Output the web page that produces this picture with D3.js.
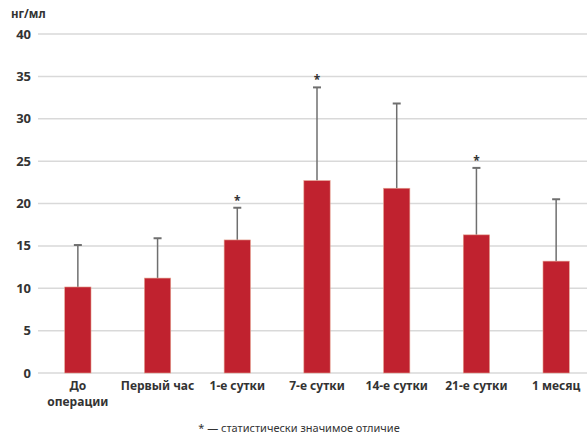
<!DOCTYPE html>
<html>
<head>
<meta charset="utf-8">
<script src="https://cdn.jsdelivr.net/npm/d3@7"></script>
<style>
  body { margin: 0; background: #fff; }
  svg { font-family: "Noto Sans", "Open Sans", sans-serif; }
</style>
</head>
<body>
<div id="chart"></div>
<script>
const categories = ["До операции", "Первый час", "1-е сутки", "7-е сутки", "14-е сутки", "21-е сутки", "1 месяц"];
const means = [10.15, 11.2, 15.7, 22.7, 21.8, 16.3, 13.2];
const upper = [15.1, 15.9, 19.5, 33.7, 31.8, 24.2, 20.5];
const significant = [false, false, true, true, false, true, false];
const yTicks = [0, 5, 10, 15, 20, 25, 30, 35, 40];

const width = 587, height = 437;
const margin = {top: 34, left: 38, bottom: 64};
const plotRight = 596;

const svg = d3.select("#chart")
  .append("svg")
    .attr("width", width)
    .attr("height", height);

const x = d3.scaleBand()
  .domain(categories)
  .range([margin.left, plotRight])
  .paddingInner(0.67)
  .paddingOuter(0.335);

const y = d3.scaleLinear()
  .domain([0, 40])
  .range([height - margin.bottom, margin.top]);

// gridlines
svg.append("g")
  .selectAll("line")
  .data(yTicks)
  .join("line")
    .attr("x1", margin.left)
    .attr("x2", plotRight)
    .attr("y1", d => y(d))
    .attr("y2", d => y(d))
    .attr("stroke", "#d9d9d9")
    .attr("stroke-width", 1.5);

// y labels
svg.append("g")
  .selectAll("text")
  .data(yTicks)
  .join("text")
    .attr("x", 31)
    .attr("y", d => y(d))
    .attr("dy", "0.35em")
    .attr("text-anchor", "end")
    .style("font-size", "13px")
    .style("font-weight", "bold")
    .style("fill", "#333")
    .text(d => d);

svg.append("text")
  .attr("x", 11)
  .attr("y", 18)
  .style("font-size", "11.5px")
  .style("font-weight", "bold")
  .style("fill", "#333")
  .text("нг/мл");

// error bars
const cx = d => x(d) + x.bandwidth() / 2;
const errs = svg.append("g");
errs.selectAll("line.stem")
  .data(categories)
  .join("line")
    .attr("class", "stem")
    .attr("x1", cx).attr("x2", cx)
    .attr("y1", (d, i) => y(means[i]))
    .attr("y2", (d, i) => y(upper[i]))
    .attr("stroke", "#6f6f6f")
    .attr("stroke-width", 1.5);
errs.selectAll("line.cap")
  .data(categories)
  .join("line")
    .attr("class", "cap")
    .attr("x1", d => cx(d) - 4).attr("x2", d => cx(d) + 4)
    .attr("y1", (d, i) => y(upper[i]))
    .attr("y2", (d, i) => y(upper[i]))
    .attr("stroke", "#6f6f6f")
    .attr("stroke-width", 2);

// bars
svg.append("g")
  .selectAll("rect")
  .data(categories)
  .join("rect")
    .attr("x", d => x(d))
    .attr("width", x.bandwidth())
    .attr("y", (d, i) => y(means[i]))
    .attr("height", (d, i) => y(0) - y(means[i]))
    .attr("fill", "#c0222f")
    .attr("stroke", "#e4a08f")
    .attr("stroke-width", 0.6);

// significance marks
svg.append("g")
  .selectAll("text")
  .data(categories.filter((d, i) => significant[i]))
  .join("text")
    .attr("x", cx)
    .attr("y", d => y(upper[categories.indexOf(d)]) - 3)
    .attr("text-anchor", "middle")
    .style("font-size", "12px")
    .style("font-weight", "bold")
    .style("fill", "#333")
    .text("*");

// x labels
const xl = svg.append("g")
  .selectAll("text")
  .data(categories)
  .join("text")
    .attr("x", cx)
    .attr("y", 390)
    .attr("text-anchor", "middle")
    .style("font-size", "12px")
    .style("font-weight", "bold")
    .style("fill", "#333");
xl.each(function(d) {
  const el = d3.select(this);
  const parts = d === "До операции" ? ["До", "операции"] : [d];
  parts.forEach((p, k) => {
    el.append("tspan")
      .attr("x", cx(d))
      .attr("dy", k === 0 ? 0 : "1.35em")
      .text(p);
  });
});

// footnote
svg.append("text")
  .attr("x", 299)
  .attr("y", 432)
  .attr("text-anchor", "middle")
  .style("font-size", "11px")
  .style("fill", "#333")
  .text("* — статистически значимое отличие");
</script>
</body>
</html>
